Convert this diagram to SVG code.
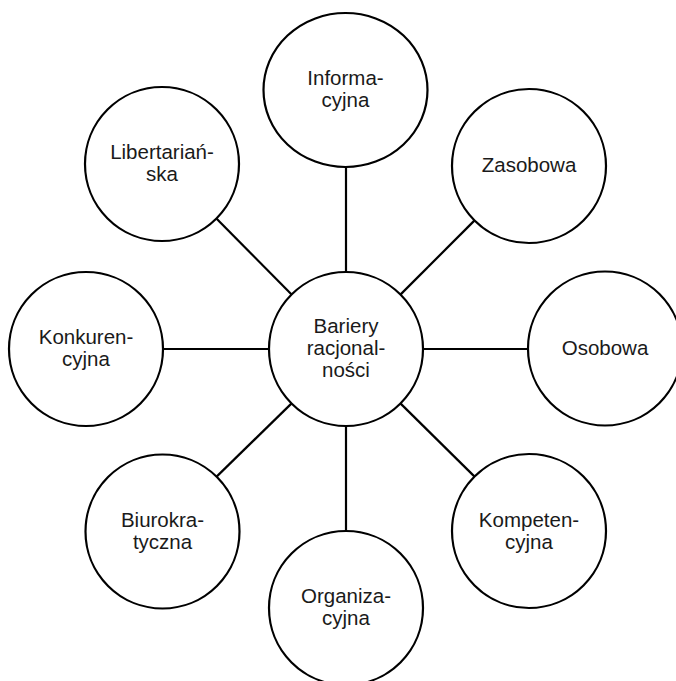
<svg xmlns="http://www.w3.org/2000/svg" width="676" height="681" viewBox="0 0 676 681">
  <style>
    .node { fill: #ffffff; stroke: #000000; stroke-width: 2.2; }
    .edge { stroke: #000000; stroke-width: 2.2; fill: none; }
    .label { font-family: "Liberation Sans", Arial, sans-serif; font-size: 20.5px; fill: #1a1a1a; text-anchor: middle; }
  </style>
  <rect width="676" height="681" fill="#ffffff"/>

  <!-- spokes from the hub to each surrounding node -->
  <g id="connectors">
    <line class="edge" x1="346" y1="272" x2="346" y2="167"/>
    <line class="edge" x1="346" y1="426" x2="346" y2="531"/>
    <line class="edge" x1="269" y1="349" x2="163" y2="349"/>
    <line class="edge" x1="423" y1="349" x2="528" y2="349"/>
    <line class="edge" x1="400.4" y1="294.6" x2="474.6" y2="220.4"/>
    <line class="edge" x1="291.6" y1="294.6" x2="216.4" y2="218.4"/>
    <line class="edge" x1="400.4" y1="403.4" x2="474.6" y2="476.6"/>
    <line class="edge" x1="291.6" y1="403.4" x2="216.6" y2="476.6"/>
  </g>

  <g id="hub">
    <circle class="node" cx="346" cy="349" r="77"/>
    <text class="label" x="346" y="333">Bariery</text>
    <text class="label" x="346" y="355">racjonal-</text>
    <text class="label" x="346" y="377">ności</text>
  </g>

  <g id="informacyjna">
    <ellipse class="node" cx="345.5" cy="90" rx="82" ry="77"/>
    <text class="label" x="345.5" y="85">Informa-</text>
    <text class="label" x="345.5" y="107">cyjna</text>
  </g>

  <g id="zasobowa">
    <circle class="node" cx="529" cy="166" r="77"/>
    <text class="label" x="529" y="172">Zasobowa</text>
  </g>

  <g id="osobowa">
    <circle class="node" cx="605" cy="348.5" r="77"/>
    <text class="label" x="605" y="355">Osobowa</text>
  </g>

  <g id="kompetencyjna">
    <circle class="node" cx="529" cy="531" r="77"/>
    <text class="label" x="529" y="527">Kompeten-</text>
    <text class="label" x="529" y="549">cyjna</text>
  </g>

  <g id="organizacyjna">
    <circle class="node" cx="346" cy="608" r="77"/>
    <text class="label" x="346" y="603">Organiza-</text>
    <text class="label" x="346" y="625">cyjna</text>
  </g>

  <g id="biurokratyczna">
    <circle class="node" cx="162.5" cy="531.5" r="77"/>
    <text class="label" x="162.5" y="527">Biurokra-</text>
    <text class="label" x="162.5" y="549">tyczna</text>
  </g>

  <g id="konkurencyjna">
    <circle class="node" cx="86" cy="349" r="77"/>
    <text class="label" x="86" y="344">Konkuren-</text>
    <text class="label" x="86" y="366">cyjna</text>
  </g>

  <g id="libertarianska">
    <circle class="node" cx="162" cy="164" r="77"/>
    <text class="label" x="162" y="159">Libertariań-</text>
    <text class="label" x="162" y="181">ska</text>
  </g>
</svg>
